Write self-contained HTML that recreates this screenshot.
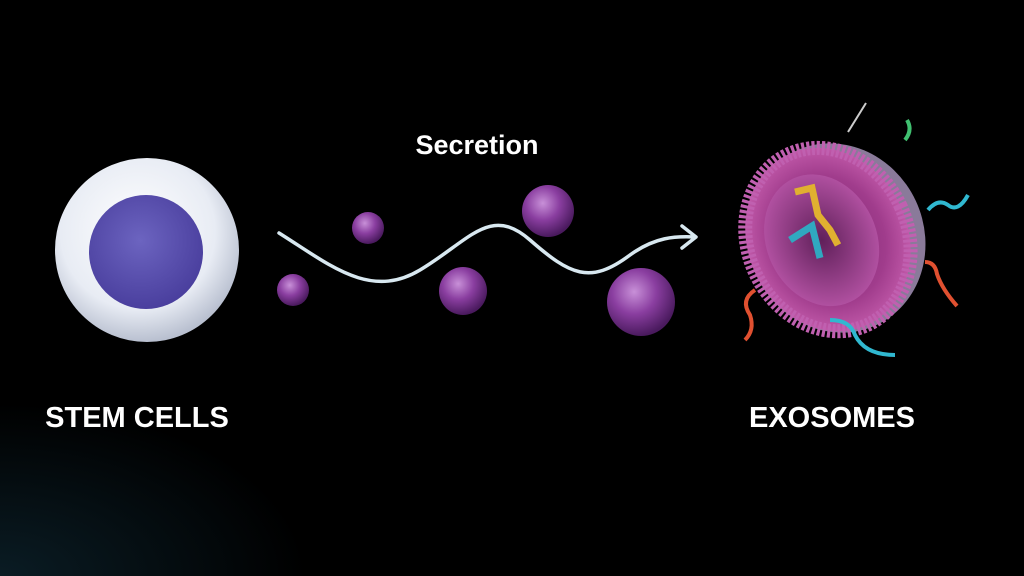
<!DOCTYPE html>
<html><head><style>
html,body{margin:0;padding:0;background:#000;}
svg{display:block}
text{font-family:"Liberation Sans",sans-serif;fill:#fff;font-weight:bold}
</style></head><body>
<svg width="1024" height="576" viewBox="0 0 1024 576" xmlns="http://www.w3.org/2000/svg">
<defs>
<radialGradient id="bg" cx="0" cy="1" r="0.3">
<stop offset="0" stop-color="#0a1c24"/><stop offset="1" stop-color="#000"/></radialGradient>
<radialGradient id="cell" cx="0.45" cy="0.4" r="0.6">
<stop offset="0" stop-color="#ffffff"/><stop offset="0.7" stop-color="#e8ecf4"/><stop offset="1" stop-color="#b9c0d0"/></radialGradient>
<radialGradient id="nuc" cx="0.45" cy="0.4" r="0.6">
<stop offset="0" stop-color="#6c64c0"/><stop offset="1" stop-color="#4a3f9e"/></radialGradient>
<radialGradient id="ves" cx="0.4" cy="0.35" r="0.65">
<stop offset="0" stop-color="#c890d8"/><stop offset="0.5" stop-color="#8a3ea0"/><stop offset="1" stop-color="#4a1a5e"/></radialGradient>
<radialGradient id="exo" cx="0.5" cy="0.5" r="0.5">
<stop offset="0" stop-color="#7a2870"/><stop offset="0.7" stop-color="#a03c8c"/><stop offset="1" stop-color="#c058a8"/></radialGradient>
<radialGradient id="exoIn" cx="0.5" cy="0.5" r="0.5">
<stop offset="0" stop-color="#60205a"/><stop offset="1" stop-color="#b050a0"/></radialGradient>
</defs>
<rect width="1024" height="576" fill="url(#bg)"/>
<circle cx="147" cy="250" r="92" fill="url(#cell)"/>
<circle cx="146" cy="252" r="57" fill="url(#nuc)"/>
<circle cx="368" cy="228" r="16" fill="url(#ves)"/>
<circle cx="293" cy="290" r="16" fill="url(#ves)"/>
<circle cx="548" cy="211" r="26" fill="url(#ves)"/>
<circle cx="463" cy="291" r="24" fill="url(#ves)"/>
<circle cx="641" cy="302" r="34" fill="url(#ves)"/>
<path d="M279 233 C330 265,370 300,420 270 C470 240,490 205,530 240 C570 275,590 285,630 255 C655 237,675 236,695 237" fill="none" stroke="#d8e8f0" stroke-width="3.5" stroke-linecap="round"/>
<path d="M682 226 L696 237 L682 248" fill="none" stroke="#d8e8f0" stroke-width="3.5" stroke-linecap="round" stroke-linejoin="round"/>
<g transform="rotate(-25 836 238)">
<ellipse cx="836" cy="238" rx="88" ry="96" fill="#8a7a9a"/>
<ellipse cx="828" cy="236" rx="80" ry="94" fill="url(#exo)" stroke="#c060b0" stroke-width="14" stroke-dasharray="3 2"/>
<ellipse cx="822" cy="234" rx="55" ry="68" fill="url(#exoIn)"/>
</g>
<line x1="848" y1="132" x2="866" y2="103" stroke="#ccc" stroke-width="2"/>
<path d="M795 192 L812 188 L818 215 L830 230 L838 245" fill="none" stroke="#e0b030" stroke-width="7"/>
<path d="M790 240 L812 226 L820 258" fill="none" stroke="#30a8c0" stroke-width="7"/>
<path d="M928 210 q10 -12 20 -5 q10 8 20 -10" fill="none" stroke="#30b8d0" stroke-width="4"/>
<path d="M925 262 q10 0 12 12 q5 15 20 32" fill="none" stroke="#e05030" stroke-width="4"/>
<path d="M830 320 q20 0 25 15 q10 20 40 20" fill="none" stroke="#30b8d0" stroke-width="4"/>
<path d="M755 290 q-15 10 -5 25 q5 15 -5 25" fill="none" stroke="#e05030" stroke-width="4"/>
<path d="M905 140 q8 -10 2 -20" fill="none" stroke="#40c070" stroke-width="4"/>
<text x="477" y="154" font-size="27" text-anchor="middle">Secretion</text>
<text x="137" y="427" font-size="29" text-anchor="middle">STEM CELLS</text>
<text x="832" y="427" font-size="29" text-anchor="middle">EXOSOMES</text>
</svg>
</body></html>
